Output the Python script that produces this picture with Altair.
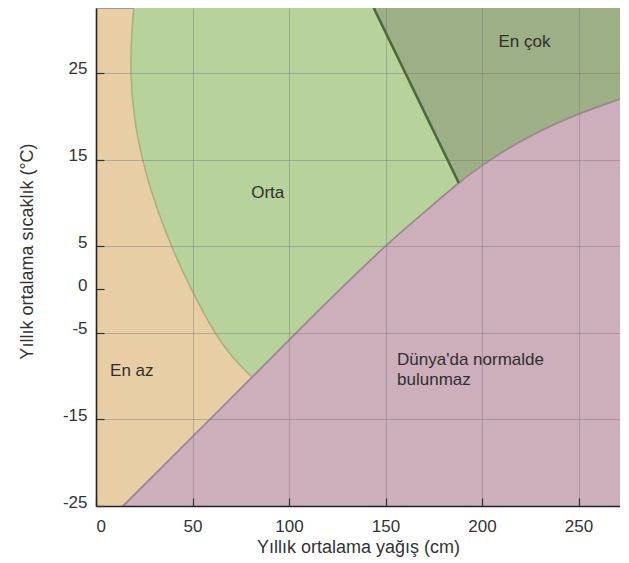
import altair as alt
import pandas as pd

# ---- data -------------------------------------------------------------
X_MAX = 271.5
Y_MIN, Y_MAX = -25, 32.5

# "Orta" left boundary (precipitation vs temperature)
orta_temp = [-10.1, -7.5, -5, 0, 5, 10, 15, 20, 25, 30, 32.5]
orta_precip = [80.7, 69.7, 61.7, 49.5, 39.2, 30.7, 24.2, 19.9, 18.1, 18.7, 19.6]

# lower-right limit ("Dünya'da normalde bulunmaz")
limit_precip = [14, 50, 81, 120, 150, 170, 188, 200, 220, 244, 271.5]
limit_temp = [-25, -17, -10.1, -1.4, 5, 8.9, 12.3, 14.3, 17.1, 19.7, 22]

# "En çok" boundary line
cok_precip = [143.9, 188]
cok_temp = [32.5, 12.3]

# labels
center_text = ["Orta", "En çok"]
center_x = [89, 222]
center_y = [11.1, 28.6]
left_text = ["En az", "Dünya'da normalde", "bulunmaz"]
left_x = [7.3, 156.0, 156.0]
left_y = [-9.4, -8.2, -10.4]

x_ticks = [0, 50, 100, 150, 200, 250]
y_ticks = [-25, -15, -5, 0, 5, 15, 25]

# ---- styles -------------------------------------------------------------
TAN = "#E8CEA4"
LIGHT_GREEN = "#B7D29A"
DARK_GREEN = "#9DAF85"
PINK = "#CDAEBB"
FONT = "Liberation Sans"

orta_df = pd.DataFrame({"p": orta_precip, "t": orta_temp})
orta_df["p2"] = X_MAX
limit_df = pd.DataFrame({"p": limit_precip, "t": limit_temp})
limit_df["t2"] = Y_MIN
cok_df = pd.DataFrame({"p": cok_precip, "t": cok_temp})
cok_df["p2"] = X_MAX
center_df = pd.DataFrame({"p": center_x, "t": center_y, "label": center_text})
left_df = pd.DataFrame({"p": left_x, "t": left_y, "label": left_text})

common_axis = dict(
    grid=True,
    gridColor="#6f6f6f",
    gridOpacity=0.4,
    gridWidth=1,
    domainColor="#222222",
    domainWidth=1.6,
    tickColor="#333333",
    tickSize={"expr": "-8"},
    tickWidth=1.2,
    labelFont=FONT,
    labelFontSize=17,
    labelColor="#333333",
    labelExpr="'' + datum.value",
    titleFont=FONT,
    titleFontSize=18,
    titleFontWeight="normal",
    titleColor="#333333",
    zindex=1,
)

x_axis = alt.Axis(
    values=x_ticks,
    title="Yıllık ortalama yağış (cm)",
    labelPadding=20,
    titlePadding=4,
    **common_axis,
)
y_axis = alt.Axis(
    values=y_ticks,
    title="Yıllık ortalama sıcaklık (°C)",
    labelPadding=17,
    labelBaseline="alphabetic",
    labelOffset=1,
    titleX=-60,
    titleY=243,
    titleAlign="center",
    **{**common_axis, "gridOpacity": {"condition": {"test": "datum.value === 0", "value": 0}, "value": 0.4}},
)

x_scale = alt.Scale(domain=[0, X_MAX], nice=False, zero=False)
y_scale = alt.Scale(domain=[Y_MIN, Y_MAX], nice=False, zero=False)


def X():
    return alt.X("p:Q", scale=x_scale, axis=x_axis)


def Y():
    return alt.Y("t:Q", scale=y_scale, axis=y_axis)


orta_area = alt.Chart(orta_df).mark_area(
    orient="horizontal", color=LIGHT_GREEN, opacity=1, interpolate="catmull-rom"
).encode(y=Y(), x=X(), x2="p2:Q")

orta_line = alt.Chart(orta_df).mark_line(
    color="#AFAE7F", strokeWidth=1.6, interpolate="catmull-rom"
).encode(x=X(), y=Y(), order=alt.Order("t:Q"))

cok_area = alt.Chart(cok_df).mark_area(
    orient="horizontal", color=DARK_GREEN, opacity=1
).encode(y=Y(), x=X(), x2="p2:Q")

limit_area = alt.Chart(limit_df).mark_area(
    color=PINK, opacity=1, interpolate="catmull-rom"
).encode(x=X(), y=Y(), y2="t2:Q")

limit_line = alt.Chart(limit_df).mark_line(
    color="#9A8A8E", strokeWidth=1.8, interpolate="catmull-rom"
).encode(x=X(), y=Y(), order=alt.Order("p:Q"))

cok_line = alt.Chart(cok_df).mark_line(
    color="#4C6A38", strokeWidth=2.6
).encode(x=X(), y=Y())

center_labels = alt.Chart(center_df).mark_text(
    font=FONT, fontSize=17, color="#2f2f2f", align="center", baseline="middle"
).encode(x=X(), y=Y(), text="label:N")

left_labels = alt.Chart(left_df).mark_text(
    font=FONT, fontSize=17, color="#2f2f2f", align="left", baseline="middle"
).encode(x=X(), y=Y(), text="label:N")

chart = (
    alt.layer(
        orta_area,
        orta_line,
        cok_area,
        limit_area,
        limit_line,
        cok_line,
        center_labels,
        left_labels,
    )
    .properties(
        width=524,
        height=498,
        autosize=alt.AutoSizeParams(type="none"),
        padding={"left": 88, "top": 0, "right": 0, "bottom": 55},
    )
    .configure_view(fill=TAN, stroke="#9a9a9a", strokeWidth=1)
)

chart.save("out.html", embed_options={"renderer": "svg", "actions": False})
